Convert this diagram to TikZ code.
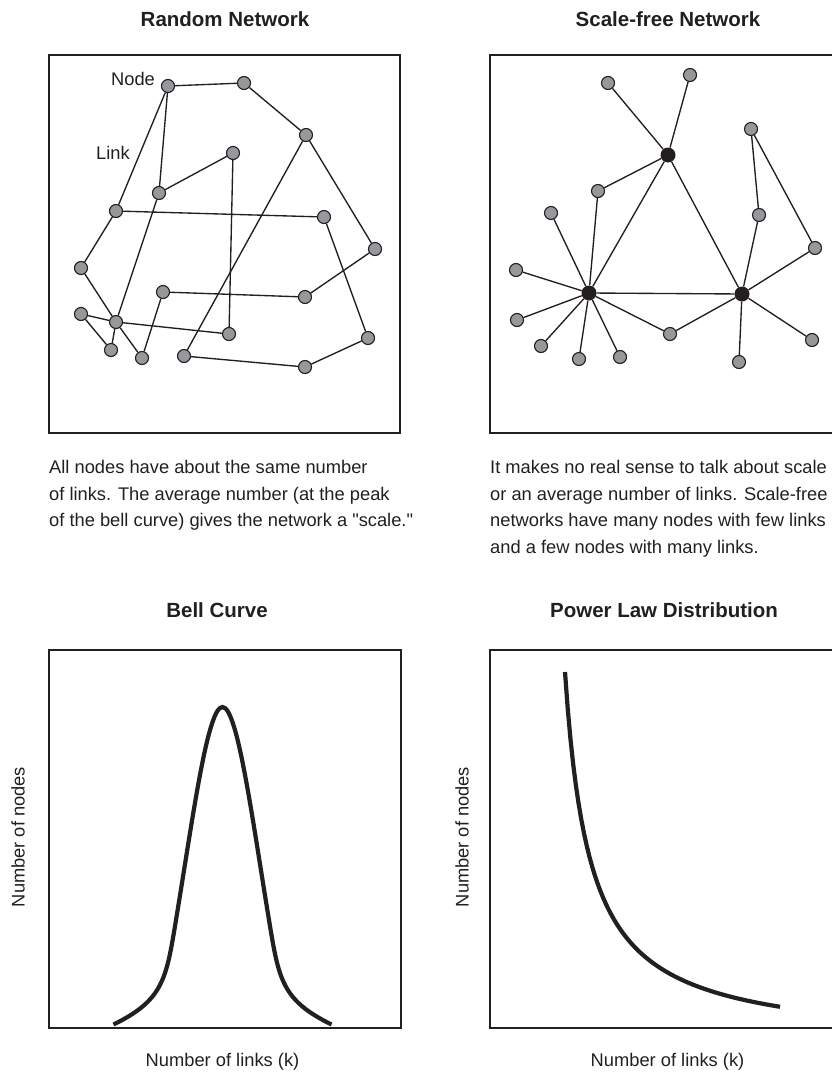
\documentclass[tikz,border=0pt]{standalone}
\usepackage{fontspec}
\setmainfont{Liberation Sans}
\usepackage{tikz}
\usetikzlibrary{positioning}
\definecolor{inkblack}{RGB}{35,31,32}
\definecolor{nodegray}{RGB}{150,152,156}
\tikzset{
  netnode/.style={circle,draw=inkblack,fill=nodegray,line width=1.1pt,minimum size=13pt,inner sep=0pt},
  hubnode/.style={circle,fill=inkblack,minimum size=15pt,inner sep=0pt},
  link/.style={draw=inkblack,line width=1.35pt},
  panel/.style={draw=inkblack,line width=2.2pt},
  distcurve/.style={draw=inkblack,line width=4.2pt},
  titletext/.style={font=\fontsize{20.5}{24}\selectfont\bfseries,text=inkblack,inner sep=0pt},
  bodytext/.style={font=\fontsize{18.3}{26.5}\selectfont,text=inkblack,align=left,inner sep=0pt,anchor=north west},
  axistext/.style={font=\fontsize{18.3}{22}\selectfont,text=inkblack,inner sep=0pt}
}

\begin{document}
\begin{tikzpicture}[x=1pt,y=-1pt]
  \useasboundingbox (0,0) rectangle (832,1076);

  % titles
  \node[titletext] (tRand) at (225,19) {Random Network};
  \node[titletext] (tFree) at (668,19) {Scale-free Network};
  \node[titletext] (tBell) at (217,610) {Bell Curve};
  \node[titletext] (tPow) at (664,610) {Power Law Distribution};

  % panels
  \draw[panel] (49,55) rectangle (400,433);
  \draw[panel] (490,55) rectangle (845,433);
  \draw[panel] (49,650) rectangle (401,1028);
  \draw[panel] (490,650) rectangle (845,1028);

  % random network
  \node[netnode] (r1) at (168,86) {};  \node[netnode] (r2) at (244,83) {};
  \node[netnode] (r3) at (306,135) {}; \node[netnode] (r4) at (233,153) {};
  \node[netnode] (r5) at (159,193) {}; \node[netnode] (r6) at (116,211) {};
  \node[netnode] (r7) at (324,217) {}; \node[netnode] (r8) at (375,249) {};
  \node[netnode] (r9) at (81,268) {};  \node[netnode] (r10) at (163,292) {};
  \node[netnode] (r11) at (305,297) {}; \node[netnode] (r12) at (81,314) {};
  \node[netnode] (r13) at (116,322) {}; \node[netnode] (r14) at (229,334) {};
  \node[netnode] (r15) at (368,338) {}; \node[netnode] (r16) at (111,350) {};
  \node[netnode] (r17) at (142,358) {}; \node[netnode] (r18) at (184,356) {};
  \node[netnode] (r19) at (305,367) {};
  \node[axistext] (lNode) at (133,79) {Node};
  \node[axistext] (lLink) at (113,153) {Link};

  \draw[link] (r1)--(r2); \draw[link] (r2)--(r3); \draw[link] (r1)--(r6); \draw[link] (r1)--(r5);
  \draw[link] (r4)--(r5); \draw[link] (r4)--(r14); \draw[link] (r6)--(r7); \draw[link] (r6)--(r9);
  \draw[link] (r9)--(r13); \draw[link] (r5)--(r13); \draw[link] (r3)--(r8); \draw[link] (r3)--(r18);
  \draw[link] (r7)--(r15); \draw[link] (r8)--(r11); \draw[link] (r10)--(r11); \draw[link] (r10)--(r17);
  \draw[link] (r12)--(r13); \draw[link] (r13)--(r14); \draw[link] (r12)--(r16); \draw[link] (r13)--(r16);
  \draw[link] (r13)--(r17); \draw[link] (r18)--(r19); \draw[link] (r19)--(r15);

  % scale-free network
  \node[hubnode] (hubT) at (668,155) {};
  \node[hubnode] (hubL) at (589,293) {};
  \node[hubnode] (hubR) at (742,294) {};
  \node[netnode] (s1) at (608,83) {};  \node[netnode] (s2) at (690,75) {};
  \node[netnode] (s3) at (751,129) {}; \node[netnode] (s4) at (598,191) {};
  \node[netnode] (s5) at (551,213) {}; \node[netnode] (s6) at (759,215) {};
  \node[netnode] (s7) at (815,248) {}; \node[netnode] (s8) at (516,270) {};
  \node[netnode] (s9) at (517,320) {}; \node[netnode] (s10) at (541,346) {};
  \node[netnode] (s11) at (579,359) {}; \node[netnode] (s12) at (620,357) {};
  \node[netnode] (s13) at (670,334) {}; \node[netnode] (s14) at (739,362) {};
  \node[netnode] (s15) at (812,340) {};

  \draw[link] (s1)--(hubT); \draw[link] (s2)--(hubT); \draw[link] (s4)--(hubT);
  \draw[link] (hubT)--(hubL); \draw[link] (hubT)--(hubR); \draw[link] (hubL)--(hubR);
  \draw[link] (s4)--(hubL); \draw[link] (s5)--(hubL); \draw[link] (s8)--(hubL); \draw[link] (s9)--(hubL);
  \draw[link] (s10)--(hubL); \draw[link] (s11)--(hubL); \draw[link] (s12)--(hubL); \draw[link] (s13)--(hubL);
  \draw[link] (s13)--(hubR); \draw[link] (s6)--(hubR); \draw[link] (s7)--(hubR);
  \draw[link] (s14)--(hubR); \draw[link] (s15)--(hubR);
  \draw[link] (s3)--(s6); \draw[link] (s3)--(s7);

  % captions
  \node[bodytext] (capRand) at (49,460.5) {All nodes have about the same number\\of links. The average number (at the peak\\of the bell curve) gives the network a \textquotedbl scale.\textquotedbl};
  \node[bodytext] (capFree) at (490,460.5) {It makes no real sense to talk about scale\\or an average number of links. Scale-free\\networks have many nodes with few links\\and a few nodes with many links.};

  % distributions
  \draw[distcurve] (113.5,1024.5) .. controls (163.5,1000) and (166.2,979.2) .. (176,920)
    .. controls (193.1,816.4) and (207.5,707) .. (222.5,707)
    .. controls (237.5,707) and (251.9,816.4) .. (269,920)
    .. controls (278.8,979.2) and (281.5,1000) .. (331.5,1024.5);
  \draw[distcurve] plot[domain=565:780,samples=80] (\x,{1045.7-9343/(\x-540)});

  % axis labels
  \node[axistext,rotate=90] (yBell) at (18,837) {Number of nodes};
  \node[axistext,rotate=90] (yPow) at (462,837) {Number of nodes};
  \node[axistext] (xBell) at (222.5,1062) {Number of links (k)};
  \node[axistext] (xPow) at (667.5,1062) {Number of links (k)};
\end{tikzpicture}
\end{document}
